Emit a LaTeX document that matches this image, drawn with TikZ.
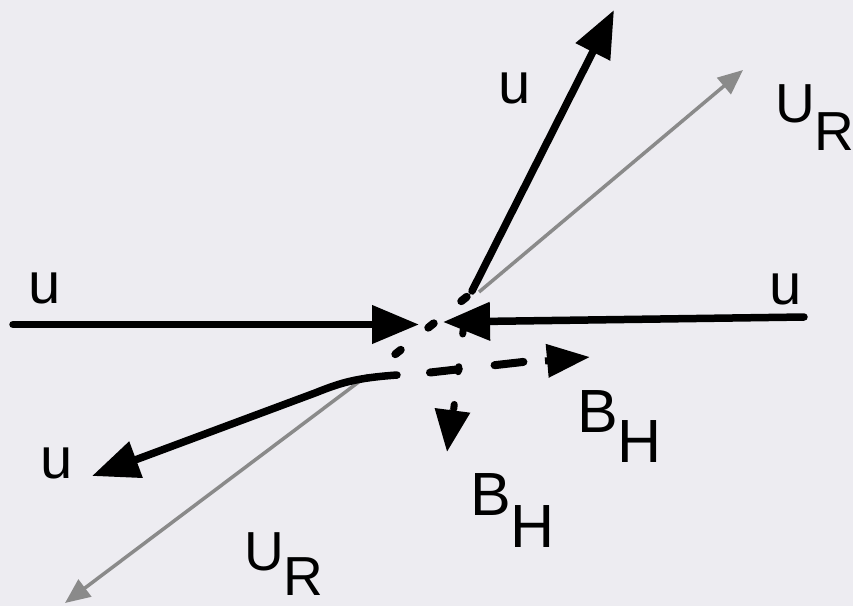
\documentclass[tikz,border=0pt]{standalone}
\usepackage{fontspec}
\setmainfont{Liberation Sans}
\usetikzlibrary{arrows.meta}
\definecolor{bgc}{RGB}{237,236,241}
\definecolor{grayarrow}{RGB}{138,138,138}
\begin{document}
\begin{tikzpicture}[x=1pt,y=-1pt,
  vec/.style={line width=7.5pt, line cap=round, -{Triangle[length=47pt,width=37pt]}},
  gvec/.style={grayarrow, line width=3.5pt, -{Triangle[length=25pt,width=21pt]}},
  dsh/.style={line width=8pt, line cap=round},
  bhead/.style={line width=7pt, -{Triangle[length=43pt,width=32pt]}},
  lblu/.style={inner sep=0pt, font=\fontsize{58pt}{58pt}\selectfont},
  lblur/.style={inner sep=0pt, anchor=base west, font=\fontsize{55pt}{55pt}\selectfont},
  lblb/.style={inner sep=0pt, anchor=base west, font=\fontsize{61pt}{61pt}\selectfont}
]
\useasboundingbox (0,0) rectangle (853,606);
\fill[bgc] (0,0) rectangle (853,606);

% coordinates
\coordinate (L0) at (13,324.5);
\coordinate (Ltip) at (419,324.5);
\coordinate (R0) at (804,317);
\coordinate (Rtip) at (443,322);
\coordinate (T0) at (472,291);
\coordinate (Ttip) at (614,10);
\coordinate (G0) at (479,292);
\coordinate (Gtip) at (743,70);
\coordinate (G1) at (368,375);
\coordinate (G1tip) at (65,603);
\coordinate (BL0) at (397,375);
\coordinate (BL1) at (315,393);
\coordinate (BLtip) at (92,476);
\coordinate (D0) at (466.7,296.8);
\coordinate (D1) at (395.3,354.2);
\coordinate (H0) at (430,372.5);
\coordinate (H1) at (527,361.5);
\coordinate (H2) at (545,361);
\coordinate (Htip) at (590,357);
\coordinate (V0) at (463.3,329);
\coordinate (V1) at (453.7,409);
\coordinate (V2) at (452.5,410);
\coordinate (Vtip) at (447,452);

% gray U_R vectors
\draw[gvec] (G0) -- (Gtip);
\draw[gvec] (G1) -- (G1tip);

% black u vectors
\draw[vec] (L0) -- (Ltip);
\draw[vec] (R0) -- (Rtip);
\draw[vec] (T0) -- (Ttip);
\draw[vec] (BL0) .. controls (355,378) and (340,383) .. (BL1) -- (BLtip);

% dashed continuation through the centre
\draw[dsh, dash pattern=on 7pt off 35.3pt] (D0) -- (D1);

% B_H horizontal (dashed)
\draw[dsh, dash pattern=on 29pt off 36pt] (H0) -- (H1);
\draw[bhead] (H2) -- (Htip);

% B_H downward (dashed)
\draw[line width=7pt, line cap=round, dash pattern=on 5pt off 33pt] (V0) -- (V1);
\draw[line width=7pt, -{Triangle[length=42pt,width=34pt]}] (V2) -- (Vtip);

% labels
\node[lblu] (uT) at (515,88) {u};
\node[lblu] (uL) at (45,288) {u};
\node[lblu] (uR) at (786,289) {u};
\node[lblu] (uB) at (57,463) {u};
\node[lblur] (urT) at (775,122) {U\raisebox{-28pt}{R}};
\node[lblur] (urB) at (244,570) {U\raisebox{-25pt}{R}};
\node[lblb] (bh1) at (577,432) {B\raisebox{-30pt}{H}};
\node[lblb] (bh2) at (470,515) {B\raisebox{-32pt}{H}};
\end{tikzpicture}
\end{document}
